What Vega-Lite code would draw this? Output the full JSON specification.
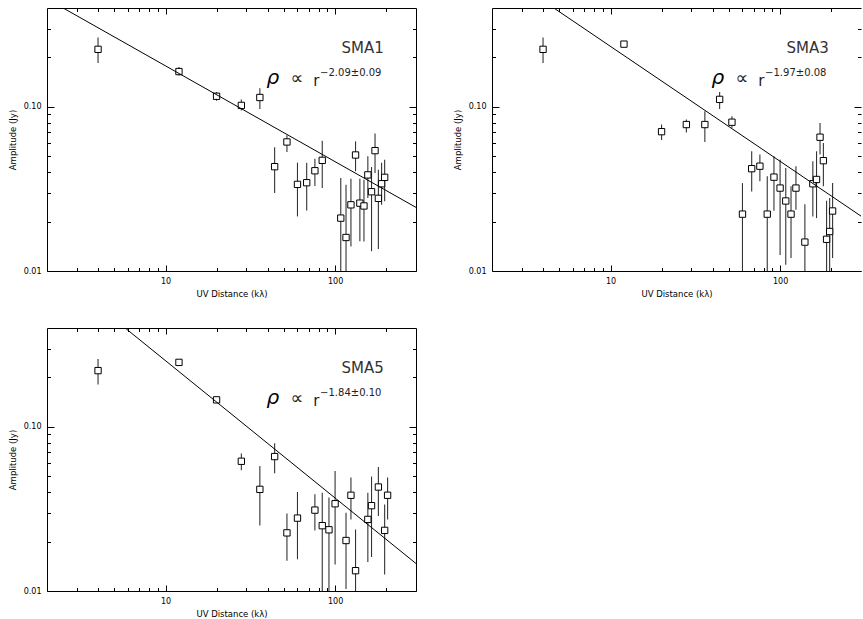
{
"$schema": "https://vega.github.io/schema/vega-lite/v6.json",
"padding": {"left": 8, "top": 7, "right": 0, "bottom": 0},
"background": "white",
"datasets": {
"sma1": [
{"x":4,"y":0.224,"lo":0.185,"hi":0.264},
{"x":12,"y":0.164,"lo":0.155,"hi":0.175},
{"x":20,"y":0.116,"lo":0.109,"hi":0.123},
{"x":28,"y":0.102,"lo":0.095,"hi":0.111},
{"x":36,"y":0.114,"lo":0.097,"hi":0.130},
{"x":44,"y":0.0432,"lo":0.0299,"hi":0.0568},
{"x":52,"y":0.0611,"lo":0.0531,"hi":0.0672},
{"x":60,"y":0.0337,"lo":0.0215,"hi":0.0457},
{"x":68,"y":0.0345,"lo":0.0234,"hi":0.0457},
{"x":76,"y":0.0408,"lo":0.0330,"hi":0.0483},
{"x":84,"y":0.0472,"lo":0.0320,"hi":0.0622},
{"x":108,"y":0.0210,"lo":0.005,"hi":0.0368},
{"x":116,"y":0.0160,"lo":0.005,"hi":0.0335},
{"x":124,"y":0.0253,"lo":0.0141,"hi":0.0365},
{"x":132,"y":0.0509,"lo":0.0405,"hi":0.0616},
{"x":140,"y":0.0259,"lo":0.0152,"hi":0.0365},
{"x":148,"y":0.0249,"lo":0.0151,"hi":0.0360},
{"x":156,"y":0.0385,"lo":0.0278,"hi":0.0500},
{"x":164,"y":0.0304,"lo":0.0132,"hi":0.0430},
{"x":172,"y":0.0541,"lo":0.0395,"hi":0.0687},
{"x":180,"y":0.0277,"lo":0.0136,"hi":0.0414},
{"x":188,"y":0.0340,"lo":0.0253,"hi":0.0457},
{"x":196,"y":0.0372,"lo":0.0266,"hi":0.0476}
],
"sma3": [
{"x":4,"y":0.224,"lo":0.185,"hi":0.264},
{"x":12,"y":0.241,"lo":0.233,"hi":0.250},
{"x":20,"y":0.0706,"lo":0.0628,"hi":0.078},
{"x":28,"y":0.078,"lo":0.0697,"hi":0.0836},
{"x":36,"y":0.078,"lo":0.061,"hi":0.094},
{"x":44,"y":0.111,"lo":0.097,"hi":0.123},
{"x":52,"y":0.0806,"lo":0.0745,"hi":0.0877},
{"x":60,"y":0.0222,"lo":0.005,"hi":0.0343},
{"x":68,"y":0.0420,"lo":0.0305,"hi":0.0536},
{"x":76,"y":0.0435,"lo":0.0352,"hi":0.0512},
{"x":84,"y":0.0222,"lo":0.005,"hi":0.0378},
{"x":92,"y":0.0373,"lo":0.0233,"hi":0.050},
{"x":100,"y":0.0320,"lo":0.0125,"hi":0.0476},
{"x":108,"y":0.0267,"lo":0.0109,"hi":0.0424},
{"x":116,"y":0.0222,"lo":0.0120,"hi":0.0328},
{"x":124,"y":0.0320,"lo":0.0236,"hi":0.0435},
{"x":140,"y":0.0150,"lo":0.005,"hi":0.0255},
{"x":156,"y":0.0340,"lo":0.0215,"hi":0.0466},
{"x":164,"y":0.0361,"lo":0.0210,"hi":0.0536},
{"x":172,"y":0.0653,"lo":0.0512,"hi":0.0798},
{"x":180,"y":0.0470,"lo":0.0328,"hi":0.0603},
{"x":188,"y":0.0156,"lo":0.005,"hi":0.0268},
{"x":196,"y":0.0174,"lo":0.005,"hi":0.0278},
{"x":204,"y":0.0232,"lo":0.0120,"hi":0.0343}
],
"sma5": [
{"x":4,"y":0.220,"lo":0.181,"hi":0.259},
{"x":12,"y":0.247,"lo":0.238,"hi":0.256},
{"x":20,"y":0.146,"lo":0.140,"hi":0.152},
{"x":28,"y":0.0617,"lo":0.0543,"hi":0.0689},
{"x":36,"y":0.0416,"lo":0.0251,"hi":0.0578},
{"x":44,"y":0.0659,"lo":0.0521,"hi":0.0795},
{"x":52,"y":0.0226,"lo":0.0153,"hi":0.0297},
{"x":60,"y":0.0278,"lo":0.0156,"hi":0.0401},
{"x":76,"y":0.0311,"lo":0.0234,"hi":0.0388},
{"x":84,"y":0.0250,"lo":0.005,"hi":0.0397},
{"x":92,"y":0.0236,"lo":0.005,"hi":0.0371},
{"x":100,"y":0.0340,"lo":0.0145,"hi":0.0539},
{"x":116,"y":0.0203,"lo":0.0103,"hi":0.0300},
{"x":124,"y":0.0383,"lo":0.0273,"hi":0.0491},
{"x":132,"y":0.0133,"lo":0.005,"hi":0.0237},
{"x":156,"y":0.0273,"lo":0.0150,"hi":0.0397},
{"x":164,"y":0.0331,"lo":0.0161,"hi":0.0498},
{"x":180,"y":0.0430,"lo":0.0286,"hi":0.0570},
{"x":196,"y":0.0234,"lo":0.0126,"hi":0.0337},
{"x":204,"y":0.0383,"lo":0.0273,"hi":0.0491}
],
"fit1": [{"x":2.49,"y":0.4},{"x":300,"y":0.0244}],
"fit3": [{"x":4.63,"y":0.4},{"x":300,"y":0.0216}],
"fit5": [{"x":5.78,"y":0.4},{"x":300,"y":0.0147}],
"ann1": [{"label":"SMA1","rho":"ρ","prop":"∝","r":"r","exp":"−2.09±0.09"}],
"ann3": [{"label":"SMA3","rho":"ρ","prop":"∝","r":"r","exp":"−1.97±0.08"}],
"ann5": [{"label":"SMA5","rho":"ρ","prop":"∝","r":"r","exp":"−1.84±0.10"}]
},
"columns": 2,
"spacing": {"row": 57, "column": 76},
"bounds": "flush",
"concat": [
{
"width": 369, "height": 263,
"layer": [
{"data": {"name": "sma1"}, "mark": {"type": "rule", "clip": true, "color": "#333", "strokeWidth": 1.1},
 "encoding": {
  "x": {"field": "x", "type": "quantitative", "scale": {"type": "log", "domain": [2, 300], "nice": false},
   "axis": {"orient": "bottom", "values": [10, 100], "labelExpr": "datum.value == 10 ? '10' : '100'", "labelOverlap": false, "labelFlush": false, "tickSize": -6, "labelPadding": 12, "title": "UV Distance (kλ)", "titlePadding": 4}},
  "y": {"field": "lo", "type": "quantitative", "scale": {"type": "log", "domain": [0.01, 0.4], "nice": false},
   "axis": {"orient": "left", "values": [0.01, 0.1], "labelExpr": "datum.value == 0.1 ? '0.10' : '0.01'", "labelOverlap": false, "labelFlush": false, "tickSize": -7, "labelPadding": 13, "title": "Amplitude (Jy)", "titlePadding": 6}},
  "y2": {"field": "hi"}}},
{"data": {"name": "sma1"}, "mark": {"type": "point", "shape": "square", "size": 40, "filled": true, "fill": "white", "stroke": "black", "strokeWidth": 1, "opacity": 1},
 "encoding": {
  "x": {"field": "x", "type": "quantitative", "scale": {"type": "log", "domain": [2, 300], "nice": false},
   "axis": {"orient": "top", "values": [10, 100], "labels": false, "title": null, "tickSize": -6}},
  "y": {"field": "y", "type": "quantitative", "scale": {"type": "log", "domain": [0.01, 0.4], "nice": false},
   "axis": {"orient": "right", "values": [0.01, 0.1], "labels": false, "title": null, "tickSize": -7}}}},
{"data": {"name": "fit1"}, "mark": {"type": "line", "clip": true, "color": "black", "strokeWidth": 1},
 "encoding": {
  "x": {"field": "x", "type": "quantitative", "scale": {"type": "log", "domain": [2, 300], "nice": false},
   "axis": {"orient": "bottom", "domain": false, "values": [3,4,5,6,7,8,9,20,30,40,50,60,70,80,90,200], "labels": false, "title": null, "tickSize": -3.5}},
  "y": {"field": "y", "type": "quantitative", "scale": {"type": "log", "domain": [0.01, 0.4], "nice": false},
   "axis": {"orient": "left", "domain": false, "values": [0.02,0.03,0.04,0.05,0.06,0.07,0.08,0.09,0.2,0.3], "labels": false, "title": null, "tickSize": -3.5}}}},
{"data": {"name": "ann1"}, "mark": {"type": "text", "align": "left", "baseline": "alphabetic", "font": "DejaVu Sans", "fontSize": 15, "color": "#333"},
 "encoding": {
  "x": {"datum": 109, "type": "quantitative", "scale": {"type": "log", "domain": [2, 300], "nice": false},
   "axis": {"orient": "top", "domain": false, "values": [3,4,5,6,7,8,9,20,30,40,50,60,70,80,90,200], "labels": false, "title": null, "tickSize": -3.5}},
  "y": {"datum": 0.214, "type": "quantitative", "scale": {"type": "log", "domain": [0.01, 0.4], "nice": false},
   "axis": {"orient": "right", "domain": false, "values": [0.02,0.03,0.04,0.05,0.06,0.07,0.08,0.09,0.2,0.3], "labels": false, "title": null, "tickSize": -3.5}},
  "text": {"field": "label"}}},
{"data": {"name": "ann1"}, "mark": {"type": "text", "align": "left", "baseline": "alphabetic", "font": "DejaVu Sans", "fontStyle": "italic", "fontSize": 20, "color": "black"},
 "encoding": {
  "x": {"datum": 39.4, "type": "quantitative", "scale": {"type": "log", "domain": [2, 300], "nice": false}, "axis": null},
  "y": {"datum": 0.138, "type": "quantitative", "scale": {"type": "log", "domain": [0.01, 0.4], "nice": false}, "axis": null},
  "text": {"field": "rho"}}},
{"data": {"name": "ann1"}, "mark": {"type": "text", "align": "left", "baseline": "alphabetic", "font": "DejaVu Sans", "fontSize": 18, "color": "#222"},
 "encoding": {
  "x": {"datum": 54.5, "type": "quantitative", "scale": {"type": "log", "domain": [2, 300], "nice": false}, "axis": null},
  "y": {"datum": 0.138, "type": "quantitative", "scale": {"type": "log", "domain": [0.01, 0.4], "nice": false}, "axis": null},
  "text": {"field": "prop"}}},
{"data": {"name": "ann1"}, "mark": {"type": "text", "align": "left", "baseline": "alphabetic", "font": "DejaVu Sans", "fontSize": 15, "color": "#222"},
 "encoding": {
  "x": {"datum": 74.3, "type": "quantitative", "scale": {"type": "log", "domain": [2, 300], "nice": false}, "axis": null},
  "y": {"datum": 0.134, "type": "quantitative", "scale": {"type": "log", "domain": [0.01, 0.4], "nice": false}, "axis": null},
  "text": {"field": "r"}}},
{"data": {"name": "ann1"}, "mark": {"type": "text", "align": "left", "baseline": "alphabetic", "font": "DejaVu Sans", "fontSize": 10, "color": "#222"},
 "encoding": {
  "x": {"datum": 81.6, "type": "quantitative", "scale": {"type": "log", "domain": [2, 300], "nice": false}, "axis": null},
  "y": {"datum": 0.154, "type": "quantitative", "scale": {"type": "log", "domain": [0.01, 0.4], "nice": false}, "axis": null},
  "text": {"field": "exp"}}}
],
"resolve": {"axis": {"x": "independent", "y": "independent"}}
},
{
"width": 369, "height": 263,
"layer": [
{"data": {"name": "sma3"}, "mark": {"type": "rule", "clip": true, "color": "#333", "strokeWidth": 1.1},
 "encoding": {
  "x": {"field": "x", "type": "quantitative", "scale": {"type": "log", "domain": [2, 300], "nice": false},
   "axis": {"orient": "bottom", "values": [10, 100], "labelExpr": "datum.value == 10 ? '10' : '100'", "labelOverlap": false, "labelFlush": false, "tickSize": -6, "labelPadding": 12, "title": "UV Distance (kλ)", "titlePadding": 4}},
  "y": {"field": "lo", "type": "quantitative", "scale": {"type": "log", "domain": [0.01, 0.4], "nice": false},
   "axis": {"orient": "left", "values": [0.01, 0.1], "labelExpr": "datum.value == 0.1 ? '0.10' : '0.01'", "labelOverlap": false, "labelFlush": false, "tickSize": -7, "labelPadding": 13, "title": "Amplitude (Jy)", "titlePadding": 6}},
  "y2": {"field": "hi"}}},
{"data": {"name": "sma3"}, "mark": {"type": "point", "shape": "square", "size": 40, "filled": true, "fill": "white", "stroke": "black", "strokeWidth": 1, "opacity": 1},
 "encoding": {
  "x": {"field": "x", "type": "quantitative", "scale": {"type": "log", "domain": [2, 300], "nice": false},
   "axis": {"orient": "top", "values": [10, 100], "labels": false, "title": null, "tickSize": -6}},
  "y": {"field": "y", "type": "quantitative", "scale": {"type": "log", "domain": [0.01, 0.4], "nice": false},
   "axis": {"orient": "right", "domain": false, "values": [0.01, 0.1], "labels": false, "title": null, "tickSize": -7}}}},
{"data": {"name": "fit3"}, "mark": {"type": "line", "clip": true, "color": "black", "strokeWidth": 1},
 "encoding": {
  "x": {"field": "x", "type": "quantitative", "scale": {"type": "log", "domain": [2, 300], "nice": false},
   "axis": {"orient": "bottom", "domain": false, "values": [3,4,5,6,7,8,9,20,30,40,50,60,70,80,90,200], "labels": false, "title": null, "tickSize": -3.5}},
  "y": {"field": "y", "type": "quantitative", "scale": {"type": "log", "domain": [0.01, 0.4], "nice": false},
   "axis": {"orient": "left", "domain": false, "values": [0.02,0.03,0.04,0.05,0.06,0.07,0.08,0.09,0.2,0.3], "labels": false, "title": null, "tickSize": -3.5}}}},
{"data": {"name": "ann3"}, "mark": {"type": "text", "align": "left", "baseline": "alphabetic", "font": "DejaVu Sans", "fontSize": 15, "color": "#333"},
 "encoding": {
  "x": {"datum": 109, "type": "quantitative", "scale": {"type": "log", "domain": [2, 300], "nice": false},
   "axis": {"orient": "top", "domain": false, "values": [3,4,5,6,7,8,9,20,30,40,50,60,70,80,90,200], "labels": false, "title": null, "tickSize": -3.5}},
  "y": {"datum": 0.214, "type": "quantitative", "scale": {"type": "log", "domain": [0.01, 0.4], "nice": false},
   "axis": {"orient": "right", "domain": false, "values": [0.02,0.03,0.04,0.05,0.06,0.07,0.08,0.09,0.2,0.3], "labels": false, "title": null, "tickSize": -3.5}},
  "text": {"field": "label"}}},
{"data": {"name": "ann3"}, "mark": {"type": "text", "align": "left", "baseline": "alphabetic", "font": "DejaVu Sans", "fontStyle": "italic", "fontSize": 20, "color": "black"},
 "encoding": {
  "x": {"datum": 39.4, "type": "quantitative", "scale": {"type": "log", "domain": [2, 300], "nice": false}, "axis": null},
  "y": {"datum": 0.138, "type": "quantitative", "scale": {"type": "log", "domain": [0.01, 0.4], "nice": false}, "axis": null},
  "text": {"field": "rho"}}},
{"data": {"name": "ann3"}, "mark": {"type": "text", "align": "left", "baseline": "alphabetic", "font": "DejaVu Sans", "fontSize": 18, "color": "#222"},
 "encoding": {
  "x": {"datum": 54.5, "type": "quantitative", "scale": {"type": "log", "domain": [2, 300], "nice": false}, "axis": null},
  "y": {"datum": 0.138, "type": "quantitative", "scale": {"type": "log", "domain": [0.01, 0.4], "nice": false}, "axis": null},
  "text": {"field": "prop"}}},
{"data": {"name": "ann3"}, "mark": {"type": "text", "align": "left", "baseline": "alphabetic", "font": "DejaVu Sans", "fontSize": 15, "color": "#222"},
 "encoding": {
  "x": {"datum": 74.3, "type": "quantitative", "scale": {"type": "log", "domain": [2, 300], "nice": false}, "axis": null},
  "y": {"datum": 0.134, "type": "quantitative", "scale": {"type": "log", "domain": [0.01, 0.4], "nice": false}, "axis": null},
  "text": {"field": "r"}}},
{"data": {"name": "ann3"}, "mark": {"type": "text", "align": "left", "baseline": "alphabetic", "font": "DejaVu Sans", "fontSize": 10, "color": "#222"},
 "encoding": {
  "x": {"datum": 81.6, "type": "quantitative", "scale": {"type": "log", "domain": [2, 300], "nice": false}, "axis": null},
  "y": {"datum": 0.154, "type": "quantitative", "scale": {"type": "log", "domain": [0.01, 0.4], "nice": false}, "axis": null},
  "text": {"field": "exp"}}}
],
"resolve": {"axis": {"x": "independent", "y": "independent"}}
},
{
"width": 369, "height": 263,
"layer": [
{"data": {"name": "sma5"}, "mark": {"type": "rule", "clip": true, "color": "#333", "strokeWidth": 1.1},
 "encoding": {
  "x": {"field": "x", "type": "quantitative", "scale": {"type": "log", "domain": [2, 300], "nice": false},
   "axis": {"orient": "bottom", "values": [10, 100], "labelExpr": "datum.value == 10 ? '10' : '100'", "labelOverlap": false, "labelFlush": false, "tickSize": -6, "labelPadding": 12, "title": "UV Distance (kλ)", "titlePadding": 4}},
  "y": {"field": "lo", "type": "quantitative", "scale": {"type": "log", "domain": [0.01, 0.4], "nice": false},
   "axis": {"orient": "left", "values": [0.01, 0.1], "labelExpr": "datum.value == 0.1 ? '0.10' : '0.01'", "labelOverlap": false, "labelFlush": false, "tickSize": -7, "labelPadding": 13, "title": "Amplitude (Jy)", "titlePadding": 6}},
  "y2": {"field": "hi"}}},
{"data": {"name": "sma5"}, "mark": {"type": "point", "shape": "square", "size": 40, "filled": true, "fill": "white", "stroke": "black", "strokeWidth": 1, "opacity": 1},
 "encoding": {
  "x": {"field": "x", "type": "quantitative", "scale": {"type": "log", "domain": [2, 300], "nice": false},
   "axis": {"orient": "top", "values": [10, 100], "labels": false, "title": null, "tickSize": -6}},
  "y": {"field": "y", "type": "quantitative", "scale": {"type": "log", "domain": [0.01, 0.4], "nice": false},
   "axis": {"orient": "right", "values": [0.01, 0.1], "labels": false, "title": null, "tickSize": -7}}}},
{"data": {"name": "fit5"}, "mark": {"type": "line", "clip": true, "color": "black", "strokeWidth": 1},
 "encoding": {
  "x": {"field": "x", "type": "quantitative", "scale": {"type": "log", "domain": [2, 300], "nice": false},
   "axis": {"orient": "bottom", "domain": false, "values": [3,4,5,6,7,8,9,20,30,40,50,60,70,80,90,200], "labels": false, "title": null, "tickSize": -3.5}},
  "y": {"field": "y", "type": "quantitative", "scale": {"type": "log", "domain": [0.01, 0.4], "nice": false},
   "axis": {"orient": "left", "domain": false, "values": [0.02,0.03,0.04,0.05,0.06,0.07,0.08,0.09,0.2,0.3], "labels": false, "title": null, "tickSize": -3.5}}}},
{"data": {"name": "ann5"}, "mark": {"type": "text", "align": "left", "baseline": "alphabetic", "font": "DejaVu Sans", "fontSize": 15, "color": "#333"},
 "encoding": {
  "x": {"datum": 109, "type": "quantitative", "scale": {"type": "log", "domain": [2, 300], "nice": false},
   "axis": {"orient": "top", "domain": false, "values": [3,4,5,6,7,8,9,20,30,40,50,60,70,80,90,200], "labels": false, "title": null, "tickSize": -3.5}},
  "y": {"datum": 0.214, "type": "quantitative", "scale": {"type": "log", "domain": [0.01, 0.4], "nice": false},
   "axis": {"orient": "right", "domain": false, "values": [0.02,0.03,0.04,0.05,0.06,0.07,0.08,0.09,0.2,0.3], "labels": false, "title": null, "tickSize": -3.5}},
  "text": {"field": "label"}}},
{"data": {"name": "ann5"}, "mark": {"type": "text", "align": "left", "baseline": "alphabetic", "font": "DejaVu Sans", "fontStyle": "italic", "fontSize": 20, "color": "black"},
 "encoding": {
  "x": {"datum": 39.4, "type": "quantitative", "scale": {"type": "log", "domain": [2, 300], "nice": false}, "axis": null},
  "y": {"datum": 0.138, "type": "quantitative", "scale": {"type": "log", "domain": [0.01, 0.4], "nice": false}, "axis": null},
  "text": {"field": "rho"}}},
{"data": {"name": "ann5"}, "mark": {"type": "text", "align": "left", "baseline": "alphabetic", "font": "DejaVu Sans", "fontSize": 18, "color": "#222"},
 "encoding": {
  "x": {"datum": 54.5, "type": "quantitative", "scale": {"type": "log", "domain": [2, 300], "nice": false}, "axis": null},
  "y": {"datum": 0.138, "type": "quantitative", "scale": {"type": "log", "domain": [0.01, 0.4], "nice": false}, "axis": null},
  "text": {"field": "prop"}}},
{"data": {"name": "ann5"}, "mark": {"type": "text", "align": "left", "baseline": "alphabetic", "font": "DejaVu Sans", "fontSize": 15, "color": "#222"},
 "encoding": {
  "x": {"datum": 74.3, "type": "quantitative", "scale": {"type": "log", "domain": [2, 300], "nice": false}, "axis": null},
  "y": {"datum": 0.134, "type": "quantitative", "scale": {"type": "log", "domain": [0.01, 0.4], "nice": false}, "axis": null},
  "text": {"field": "r"}}},
{"data": {"name": "ann5"}, "mark": {"type": "text", "align": "left", "baseline": "alphabetic", "font": "DejaVu Sans", "fontSize": 10, "color": "#222"},
 "encoding": {
  "x": {"datum": 81.6, "type": "quantitative", "scale": {"type": "log", "domain": [2, 300], "nice": false}, "axis": null},
  "y": {"datum": 0.154, "type": "quantitative", "scale": {"type": "log", "domain": [0.01, 0.4], "nice": false}, "axis": null},
  "text": {"field": "exp"}}}
],
"resolve": {"axis": {"x": "independent", "y": "independent"}}
}
],
"config": {
 "view": {"stroke": null},
 "font": "DejaVu Sans",
 "axis": {"grid": false, "domainColor": "black", "domainWidth": 1, "tickColor": "black", "tickWidth": 1, "labelColor": "black", "titleColor": "black", "labelFont": "DejaVu Sans", "titleFont": "DejaVu Sans", "labelFontSize": 8, "titleFontSize": 8.5, "titleFontWeight": "normal"}
}
}
